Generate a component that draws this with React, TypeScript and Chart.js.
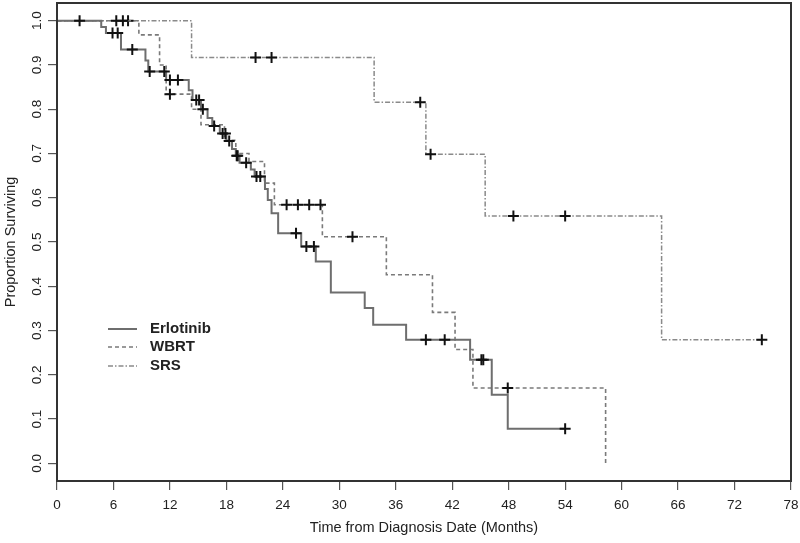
import React, { useEffect, useRef } from "react";
import { Chart, registerables } from "chart.js";

Chart.register(...registerables);

const seriesNames = ["Erlotinib", "WBRT", "SRS"];

const erlEventT = [4.7, 5.2, 6.8, 9.4, 9.7, 11.6, 14.0, 14.4, 15.3, 16.0, 16.5, 17.3, 18.0, 18.6, 19.0, 19.4, 20.6, 21.0, 22.1, 22.4, 22.8, 23.5, 25.95, 27.5, 29.1, 32.7, 33.6, 37.1, 43.9, 46.2, 47.9];
const erlEventS = [0.986, 0.972, 0.935, 0.91, 0.885, 0.866, 0.843, 0.821, 0.8, 0.78, 0.762, 0.745, 0.728, 0.71, 0.695, 0.679, 0.664, 0.648, 0.62, 0.595, 0.565, 0.52, 0.49, 0.456, 0.386, 0.351, 0.313, 0.279, 0.234, 0.155, 0.078];
const erlCensorT = [2.4, 5.9, 6.45, 8.0, 9.85, 11.4, 12.0, 12.85, 14.8, 15.1, 15.5, 16.7, 17.6, 17.9, 18.3, 19.1, 19.2, 20.1, 21.2, 21.6, 25.4, 26.5, 27.3, 39.2, 41.2, 45.1, 45.3, 54.0];

const wbrtEventT = [8.7, 10.9, 11.6, 14.3, 15.3, 17.8, 19.0, 20.4, 22.05, 23.1, 28.2, 35.0, 39.9, 42.3, 44.2, 58.3];
const wbrtEventS = [0.968, 0.9, 0.834, 0.8, 0.765, 0.73, 0.7, 0.682, 0.633, 0.584, 0.512, 0.426, 0.341, 0.257, 0.17, 0.0];
const wbrtCensorT = [6.3, 7.0, 12.0, 24.4, 25.6, 26.8, 28.0, 31.4, 47.9];

const srsEventT = [14.3, 33.7, 39.2, 45.5, 64.25];
const srsEventS = [0.917, 0.816, 0.698, 0.559, 0.279];
const srsCensorT = [7.55, 21.1, 22.8, 38.6, 39.7, 48.5, 54.0, 74.9];

const xTicks = [0, 6, 12, 18, 24, 30, 36, 42, 48, 54, 60, 66, 72, 78];
const yTicks = [0.0, 0.1, 0.2, 0.3, 0.4, 0.5, 0.6, 0.7, 0.8, 0.9, 1.0];

const lineColors = ["#6e6e6e", "#7a7a7a", "#8a8a8a"];
const lineWidths = [2, 1.6, 1.5];
const lineDashes: number[][] = [[], [4, 3], [5, 2, 1.5, 2]];

type Pt = { x: number; y: number; c: boolean };

function survAt(t: number, evT: number[], evS: number[]) {
  let s = 1;
  for (let i = 0; i < evT.length; i++) if (evT[i] <= t) s = evS[i];
  return s;
}

function buildKM(evT: number[], evS: number[], cT: number[]): Pt[] {
  const pts: Pt[] = [{ x: 0, y: 1, c: false }];
  evT.forEach((t, i) => pts.push({ x: t, y: evS[i], c: false }));
  cT.forEach((t) => pts.push({ x: t, y: survAt(t, evT, evS), c: true }));
  pts.sort((a, b) => a.x - b.x);
  return pts;
}

const FONT = "'Liberation Sans', Arial, sans-serif";

const boxLegendPlugin = {
  id: "boxLegend",
  afterDraw(chart: any) {
    const { ctx, chartArea: a } = chart;
    ctx.save();
    ctx.strokeStyle = "#333";
    ctx.lineWidth = 2;
    ctx.setLineDash([]);
    ctx.strokeRect(a.left, a.top, a.right - a.left, a.bottom - a.top);
    const lx0 = 108, lx1 = 137, tx = 150;
    const ly = [329, 347, 366];
    seriesNames.forEach((name, i) => {
      ctx.beginPath();
      ctx.strokeStyle = lineColors[i];
      ctx.lineWidth = lineWidths[i];
      ctx.setLineDash(lineDashes[i]);
      ctx.moveTo(lx0, ly[i]);
      ctx.lineTo(lx1, ly[i]);
      ctx.stroke();
      ctx.setLineDash([]);
      ctx.fillStyle = "#222";
      ctx.font = `bold 15px ${FONT}`;
      ctx.textBaseline = "middle";
      ctx.textAlign = "left";
      ctx.fillText(name, tx, ly[i]);
    });
    ctx.restore();
  },
};

export default function App() {
  const ref = useRef<HTMLCanvasElement | null>(null);
  useEffect(() => {
    if (!ref.current) return;
    const series = [
      buildKM(erlEventT, erlEventS, erlCensorT),
      buildKM(wbrtEventT, wbrtEventS, wbrtCensorT),
      buildKM(srsEventT, srsEventS, srsCensorT),
    ];
    const zeroPad = (s: any) => {
      s.paddingTop = 0;
      s.paddingBottom = 0;
      s.paddingLeft = 0;
      s.paddingRight = 0;
    };
    const chart = new Chart(ref.current, {
      type: "line",
      data: {
        datasets: series.map((d, i) => ({
          label: seriesNames[i],
          data: d as any,
          stepped: "before" as any,
          borderColor: lineColors[i],
          borderWidth: lineWidths[i],
          borderDash: lineDashes[i],
          fill: false,
          pointStyle: "cross",
          pointRadius: (c: any) => (c.raw && c.raw.c ? 5.5 : 0),
          pointHoverRadius: (c: any) => (c.raw && c.raw.c ? 5.5 : 0),
          pointBorderColor: "#111",
          pointBorderWidth: 2,
          pointBackgroundColor: "#111",
        })),
      },
      options: {
        animation: false,
        responsive: false,
        maintainAspectRatio: false,
        layout: { autoPadding: false, padding: { top: 3, right: 9, left: 0, bottom: 0 } },
        plugins: { legend: { display: false }, tooltip: { enabled: false } },
        events: [],
        scales: {
          x: {
            type: "linear",
            min: 0,
            max: 78,
            afterBuildTicks: (s: any) => {
              s.ticks = xTicks.map((v) => ({ value: v }));
            },
            afterFit: (s: any) => {
              s.height = 62;
              zeroPad(s);
            },
            border: { display: false },
            grid: { display: true, drawOnChartArea: false, drawTicks: true, tickLength: 9, color: "#555", lineWidth: 1.2 },
            ticks: {
              color: "#222",
              font: { family: FONT, size: 13.5 },
              padding: 7,
              maxRotation: 0,
              autoSkip: false,
              callback: (v: any) => String(v),
            },
            title: {
              display: true,
              text: "Time from Diagnosis Date (Months)",
              color: "#222",
              font: { family: FONT, size: 14.5 },
              padding: { top: 0, bottom: 6 },
            },
          },
          y: {
            type: "linear",
            min: -0.04,
            max: 1.04,
            afterBuildTicks: (s: any) => {
              s.ticks = yTicks.map((v) => ({ value: v }));
            },
            afterFit: (s: any) => {
              s.width = 57;
              zeroPad(s);
            },
            border: { display: false },
            grid: { display: true, drawOnChartArea: false, drawTicks: true, tickLength: 9, color: "#555", lineWidth: 1.2 },
            ticks: {
              color: "#222",
              font: { family: FONT, size: 13.5 },
              padding: 1,
              minRotation: 90,
              maxRotation: 90,
              crossAlign: "center",
              autoSkip: false,
              callback: (v: any) => Number(v).toFixed(1),
            },
            title: {
              display: true,
              text: "Proportion Surviving",
              color: "#222",
              font: { family: FONT, size: 14.5 },
              padding: { top: 2, bottom: 0 },
            },
          },
        },
      },
      plugins: [boxLegendPlugin],
    });
    return () => chart.destroy();
  }, []);
  return (
    <div style={{ position: "fixed", left: 0, top: 0, width: 800, height: 543, background: "#fff" }}>
      <canvas ref={ref} width={800} height={543} style={{ display: "block" }} />
    </div>
  );
}
